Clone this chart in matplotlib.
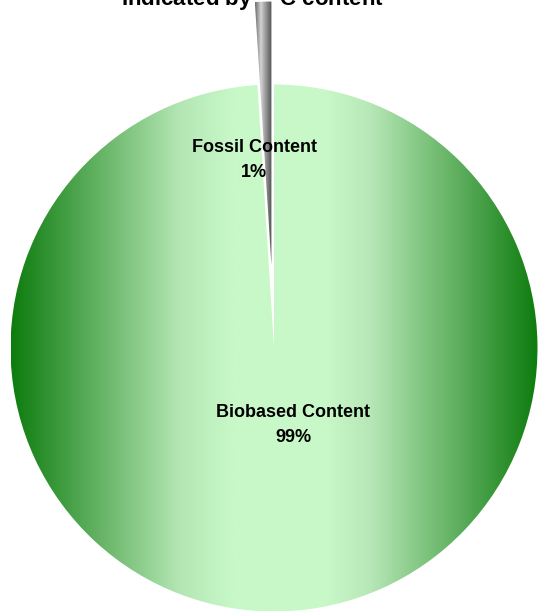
import numpy as np
import matplotlib
matplotlib.use("Agg")
import matplotlib.pyplot as plt
from matplotlib.colors import to_rgb

plt.rcParams['font.family'] = ['Liberation Sans', 'DejaVu Sans']

# data
labels = ["Fossil Content", "Biobased Content"]
values = [1, 99]
pct_labels = ["1%", "99%"]
title = "Indicated by $\\mathbf{^{14}}$C content"

# colour stops for the horizontal gradients (position, colour)
green_stops = [(0.0, "#0e7c0e"), (0.32, "#b4e6b4"), (0.42, "#c8f8c8"),
               (0.60, "#c8f8c8"), (0.68, "#b8e8b8"), (1.0, "#0e7c0e")]
grey_stops = [(0.0, "#6a6a6a"), (0.35, "#d4d4d4"), (0.55, "#a8a8a8"), (1.0, "#505050")]

W, H = 541, 613
fig = plt.figure(figsize=(W / 100, H / 100), dpi=100)
ax = fig.add_axes([0, 0, 1, 1])

center = (274, 265)
radius = 263.5
explode = [83, 0]


def gradient(stops, n=256):
    pos = [s[0] for s in stops]
    cols = np.array([to_rgb(s[1]) for s in stops])
    t = np.linspace(0, 1, n)
    row = np.stack([np.interp(t, pos, cols[:, k]) for k in range(3)], axis=-1)
    return row[np.newaxis, :, :]


wedges, _ = ax.pie(values, startangle=90, counterclock=True, center=center,
                   radius=radius, explode=explode,
                   wedgeprops=dict(linewidth=0, alpha=0))

fills = [grey_stops, green_stops]
for w, stops in zip(wedges, fills):
    if stops is grey_stops:
        # gradient across the narrow slice's width
        verts = w.get_path().vertices
        x0, x1 = verts[:, 0].min(), verts[:, 0].max()
        y0, y1 = verts[:, 1].min(), verts[:, 1].max()
    else:
        x0, x1 = center[0] - radius, center[0] + radius
        y0, y1 = center[1] - radius, center[1] + radius
    im = ax.imshow(gradient(stops), extent=(x0, x1, y0, y1), aspect='auto',
                   interpolation='bilinear', zorder=2 if stops is grey_stops else 1)
    im.set_clip_path(w)

# slice labels
label_pos = [(254, 453), (293, 188)]
for (lx, ly), name, pct in zip(label_pos, labels, pct_labels):
    ax.text(lx, ly, name + "\n" + pct, ha='center', va='center', fontsize=13,
            fontweight='bold', color='black', linespacing=1.55, zorder=5)

ax.text(252, H - 6, title, ha='center', va='baseline', fontsize=16,
        fontweight='bold', color='black', zorder=0.5, clip_on=False)

ax.set_xlim(0, W)
ax.set_ylim(0, H)
ax.axis('off')

fig.savefig("out.png", dpi=100)
